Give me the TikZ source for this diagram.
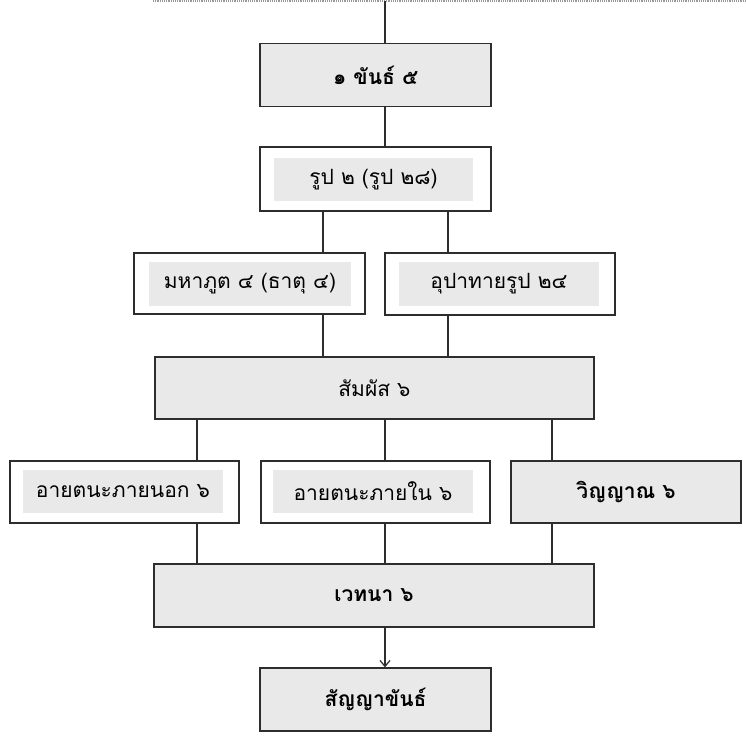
\documentclass[tikz,border=0pt]{standalone}
\usepackage{fontspec}
\newfontfamily\thaifont[Script=Thai]{Loma}
\usetikzlibrary{positioning, arrows.meta}

\definecolor{kastengrau}{RGB}{233,233,233}
\definecolor{randgrau}{RGB}{45,45,45}

\tikzset{
    kasten/.style={draw=randgrau, line width=1.3pt, fill=kastengrau, minimum width=231pt, minimum height=63pt, inner sep=0pt, font=\thaifont\fontsize{21}{24}\selectfont},
    weisskasten/.style={kasten, fill=white},
    innen/.style={fill=kastengrau, minimum width=200pt, minimum height=43pt, inner sep=0pt, font=\thaifont\fontsize{21}{24}\selectfont},
    linie/.style={draw=randgrau, line width=1.1pt},
}

\begin{document}
\begin{tikzpicture}[x=1pt,y=-1pt]
        \useasboundingbox (0,0) rectangle (746,738);

        %gepunktete Linie oben
        \coordinate (oben) at (385,1);
        \coordinate (obenrechts) at (746,1);
        \draw[gray!80, densely dotted, line width=1.2pt] (153,1) -- (obenrechts);

        %Kästen
        \node[kasten] (khan) at (375.5,75) {\bfseries ๑ ขันธ์ ๕};

        \node[weisskasten, minimum height=64pt] (rupa) at (375.5,179) {};
        \node[innen, minimum width=199pt] (rupain) at (373.5,179.5) {รูป ๒ (รูป ๒๘)};

        \node[weisskasten, minimum height=61pt] (maha) at (249.5,283.5) {};
        \node[innen, minimum width=202pt, minimum height=44pt] (mahain) at (250,284) {มหาภูต ๔ (ธาตุ ๔)};

        \node[weisskasten, minimum width=230pt, minimum height=62pt] (upa) at (500,284) {};
        \node[innen, minimum height=44pt] (upain) at (499,283.5) {อุปาทายรูป ๒๔};

        \node[kasten, minimum width=439pt, minimum height=62pt] (phassa) at (374.5,388) {สัมผัส ๖};

        \node[weisskasten, minimum width=229pt, minimum height=62pt] (ayon) at (124.5,492) {};
        \node[innen] (ayonin) at (123,491.5) {อายตนะภายนอก ๖};

        \node[weisskasten, minimum width=229pt, minimum height=62pt] (ayin) at (375.5,492) {};
        \node[innen] (ayinin) at (373,491.5) {อายตนะภายใน ๖};

        \node[kasten, minimum width=230pt, minimum height=62pt] (vinyan) at (626,492) {\bfseries วิญญาณ ๖};

        \node[kasten, minimum width=440pt] (vedana) at (374,595.5) {\bfseries เวทนา ๖};

        \node[kasten] (sanya) at (375.5,699.5) {\bfseries สัญญาขันธ์};

        %Linien
        \coordinate (l1) at (323,0);
        \coordinate (l2) at (448,0);
        \coordinate (m1) at (197,0);
        \coordinate (m2) at (385,0);
        \coordinate (m3) at (552,0);

        \draw[linie] (oben) -- (khan.north -| oben);
        \draw[linie] (khan.south -| oben) -- (rupa.north -| oben);
        \draw[linie] (rupa.south -| l1) -- (maha.north -| l1);
        \draw[linie] (rupa.south -| l2) -- (upa.north -| l2);
        \draw[linie] (maha.south -| l1) -- (phassa.north -| l1);
        \draw[linie] (upa.south -| l2) -- (phassa.north -| l2);

        \draw[linie] (phassa.south -| m1) -- (ayon.north -| m1);
        \draw[linie] (phassa.south -| m2) -- (ayin.north -| m2);
        \draw[linie] (phassa.south -| m3) -- (vinyan.north -| m3);
        \draw[linie] (ayon.south -| m1) -- (vedana.north -| m1);
        \draw[linie] (ayin.south -| m2) -- (vedana.north -| m2);
        \draw[linie] (vinyan.south -| m3) -- (vedana.north -| m3);

        %Pfeil
        \draw[linie, -{Straight Barb[length=6pt, width=10pt, line width=1.2pt]}] (vedana.south -| m2) -- (sanya.north -| m2);
    \end{tikzpicture}
\end{document}
